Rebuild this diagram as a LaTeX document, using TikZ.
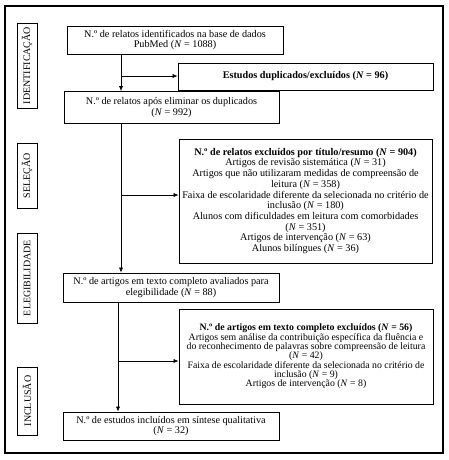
\documentclass[tikz,border=0pt]{standalone}
\usepackage{fontspec}
\setmainfont{Liberation Serif}
\usetikzlibrary{arrows.meta}
\begin{document}
\begin{tikzpicture}[x=1pt,y=-1pt,
  box/.style={draw, line width=0.7pt, inner sep=0pt, align=center, font=\fontsize{10.2}{10.7}\selectfont},
  side/.style={draw, line width=0.7pt, inner sep=0pt, rotate=90, minimum height=20pt, font=\fontsize{10}{12}\selectfont},
  arr/.style={line width=0.6pt, -{Latex[length=5pt,width=4pt]}}]
\useasboundingbox (0,0) rectangle (448,460);
% outer frame
\node[draw, line width=1.5pt, inner sep=0pt, minimum width=438pt, minimum height=447pt] (frame) at (224,229.5) {};
% side labels
\node[side, minimum width=85pt] (sid) at (27,65.5) {IDENTIFICAÇÃO};
\node[side, minimum width=65pt] (ssel) at (27,175.5) {SELEÇÃO};
\node[side, minimum width=90pt] (seleg) at (27,278) {ELEGIBILIDADE};
\node[side, minimum width=68pt] (sinc) at (27,401) {INCLUSÃO};
% main boxes
\node[box, minimum width=216pt, minimum height=28pt] (b1) at (175,40)
  {N.º de relatos identificados na base de dados\\PubMed (\textit{N} = 1088)};
\node[box, minimum width=255pt, minimum height=27pt] (dup) at (305.5,76.5)
  {\textbf{Estudos duplicados/excluídos (\textit{N} = 96)}};
\node[box, minimum width=215pt, minimum height=32pt] (b2) at (171.5,107.5)
  {N.º de relatos após eliminar os duplicados\\(\textit{N} = 992)};
\node[box, minimum width=253pt, minimum height=124pt] (ex1) at (305.5,201)
  {\textbf{N.º de relatos excluídos por título/resumo (\textit{N} = 904)}\\
   Artigos de revisão sistemática (\textit{N} = 31)\\
   Artigos que não utilizaram medidas de compreensão de\\
   leitura (\textit{N} = 358)\\
   Faixa de escolaridade diferente da selecionada no critério de\\
   inclusão (\textit{N} = 180)\\
   Alunos com dificuldades em leitura com comorbidades\\
   (\textit{N} = 351)\\
   Artigos de intervenção (\textit{N} = 63)\\
   Alunos bilíngues (\textit{N} = 36)};
\node[box, minimum width=216pt, minimum height=29pt] (b3) at (171,287.5)
  {N.º de artigos em texto completo avaliados para\\elegibilidade (\textit{N} = 88)};
\node[box, minimum width=254pt, minimum height=95pt, font=\fontsize{9.8}{9.3}\selectfont] (ex2) at (306,356.5)
  {\textbf{N.º de artigos em texto completo excluídos (\textit{N} = 56)}\\
   Artigos sem análise da contribuição específica da fluência e\\
   do reconhecimento de palavras sobre compreensão de leitura\\
   (\textit{N} = 42)\\
   Faixa de escolaridade diferente da selecionada no critério de\\
   inclusão (\textit{N} = 9)\\
   Artigos de intervenção (\textit{N} = 8)};
\node[box, minimum width=216pt, minimum height=28pt] (b4) at (171,426)
  {N.º de estudos incluídos em síntese qualitativa\\(\textit{N} = 32)};
% connectors
\coordinate (ja) at (121,76);
\coordinate (jb) at (121,195);
\coordinate (jc) at (118,361);
\draw[arr] (b1.south -| ja) -- (b2.north -| ja);
\draw[arr] (ja) -- (ja -| dup.west);
\draw[arr] (b2.south -| jb) -- (b3.north -| jb);
\draw[arr] (jb) -- (jb -| ex1.west);
\draw[arr] (b3.south -| jc) -- (b4.north -| jc);
\draw[arr] (jc) -- (jc -| ex2.west);
\end{tikzpicture}
\end{document}
